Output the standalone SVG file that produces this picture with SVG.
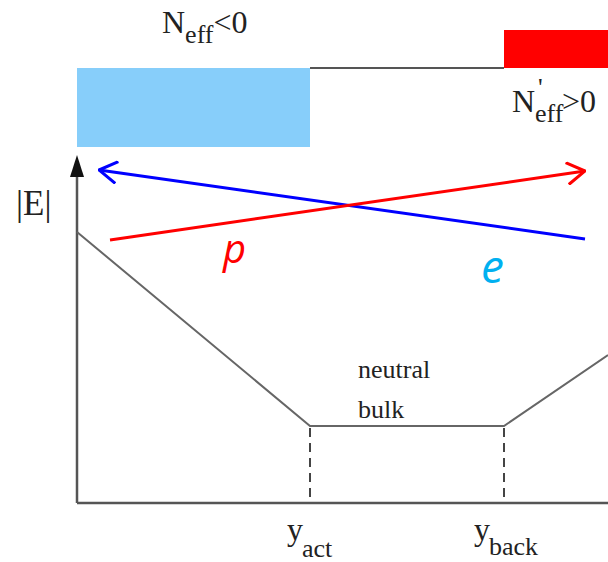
<svg xmlns="http://www.w3.org/2000/svg" width="608" height="562" viewBox="0 0 608 562">
<style>
.serif{font-family:"Liberation Serif","Times New Roman",serif;fill:#222}
.axis{stroke:#555;stroke-width:2.5;fill:none}
.curve{stroke:#666;stroke-width:2;fill:none}
.dash{stroke:#444;stroke-width:2;stroke-dasharray:9,6;fill:none}
.carrier{font-family:"Open Sans","DejaVu Sans",sans-serif;font-style:italic}
</style>
<defs>
<marker id="openBlue" viewBox="0 0 20 24" refX="19" refY="12" markerWidth="20" markerHeight="24" markerUnits="userSpaceOnUse" orient="auto">
<path d="M1,1 L19,12 L1,23" fill="none" stroke="#0000FF" stroke-width="3"/>
</marker>
<marker id="openRed" viewBox="0 0 20 24" refX="19" refY="12" markerWidth="20" markerHeight="24" markerUnits="userSpaceOnUse" orient="auto">
<path d="M1,1 L19,12 L1,23" fill="none" stroke="#FF0000" stroke-width="3"/>
</marker>
<marker id="axisHead" viewBox="0 0 22 14" refX="0" refY="7" markerWidth="22" markerHeight="14" markerUnits="userSpaceOnUse" orient="auto">
<path d="M0,0 L22,7 L0,14 Z" fill="#111"/>
</marker>
</defs>

<g id="doping">
<rect id="neg-region" x="77" y="68" width="233" height="79" fill="#87CEFA"/>
<line x1="310" y1="68" x2="504" y2="68" stroke="#555" stroke-width="2"/>
<rect id="pos-region" x="504" y="30" width="104" height="38" fill="#FF0000"/>
</g>

<g id="label-neg">
<text class="serif" x="162" y="33" font-size="32">N<tspan font-size="26" dy="10">eff</tspan><tspan dy="-10">&lt;0</tspan></text>
</g>
<g id="label-pos">
<text class="serif" x="512" y="112" font-size="32">N<tspan font-size="26" x="538" dy="-16">'</tspan><tspan font-size="26" x="535" dy="26">eff</tspan><tspan x="562" dy="-10">&gt;0</tspan></text>
</g>

<g id="axes">
<line class="axis" x1="77" y1="503" x2="77" y2="177" marker-end="url(#axisHead)"/>
<line class="axis" x1="77" y1="503" x2="608" y2="503"/>
<text class="serif" x="16" y="215" font-size="35">|E|</text>
</g>

<g id="field-profile">
<polyline class="curve" points="77,232 310,426 504,426 608,355"/>
</g>

<g id="connectors">
<line class="dash" x1="310" y1="428" x2="310" y2="503"/>
<line class="dash" x1="504" y1="428" x2="504" y2="503"/>
<line x1="585" y1="239" x2="99" y2="170" stroke="#0000FF" stroke-width="3" marker-end="url(#openBlue)"/>
<line x1="110" y1="240" x2="585" y2="171" stroke="#FF0000" stroke-width="3" marker-end="url(#openRed)"/>
</g>

<g id="carriers">
<text class="carrier" x="223" y="263" font-size="40" fill="#FF0000">p</text>
<text class="carrier" x="481" y="283" font-size="46" fill="#00B0F0">e</text>
</g>

<g id="bulk-label">
<text class="serif" x="358" y="378" font-size="26">neutral</text>
<text class="serif" x="358" y="418" font-size="26">bulk</text>
</g>

<g id="ticks">
<text class="serif" x="287" y="540" font-size="32">y<tspan x="302" dy="17" font-size="26">act</tspan></text>
<text class="serif" x="474" y="540" font-size="32">y<tspan x="489" dy="15" font-size="26">back</tspan></text>
</g>
</svg>
